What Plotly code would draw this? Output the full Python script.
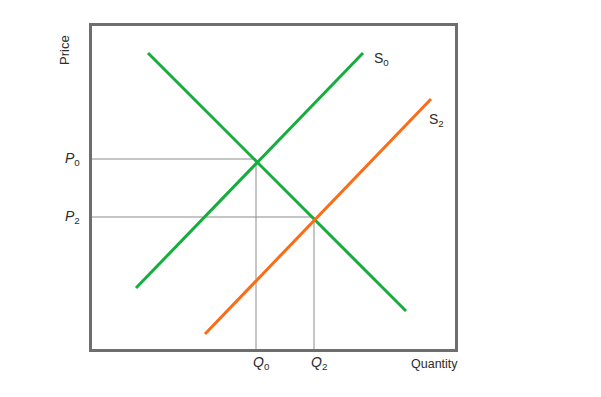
import plotly.graph_objects as go

# Data (quantity, price) in chart units
demand_q = [56, 314]
demand_p = [296, 38]
s0_q = [44, 271]
s0_p = [61, 296]
s2_q = [113, 339]
s2_p = [15, 250]
eq_labels = ["0", "2"]
eq_q = [164, 222]
eq_p = [190, 132]

X_MAX = 363
Y_MAX = 323

GREEN = "#15ad3e"
ORANGE = "#fb6c17"
GUIDE = "#8c8c8c"
TEXT = "#2b2b2b"
FONT = "Liberation Sans, Arial, sans-serif"

fig = go.Figure()

# guide lines
for q, p in zip(eq_q, eq_p):
    fig.add_trace(go.Scatter(x=[-2, q, q], y=[p, p, 0], mode="lines",
                             line=dict(color=GUIDE, width=1), hoverinfo="skip",
                             cliponaxis=False))

fig.add_trace(go.Scatter(x=demand_q, y=demand_p, mode="lines",
                         line=dict(color=GREEN, width=3)))
fig.add_trace(go.Scatter(x=s0_q, y=s0_p, mode="lines",
                         line=dict(color=GREEN, width=3)))
fig.add_trace(go.Scatter(x=s2_q, y=s2_p, mode="lines",
                         line=dict(color=ORANGE, width=3)))


def A(x, y, text, **kw):
    d = dict(x=x / X_MAX, y=y / Y_MAX, xref="paper", yref="paper", text=text,
             showarrow=False, yanchor="middle")
    d.update(kw)
    return d


LAB = dict(size=14)
ann = []
for lab, q, p in zip(eq_labels, eq_q, eq_p):
    ann.append(A(-10, p, f"<i>P</i><sub>{lab}</sub>", xanchor="right", font=LAB))
    ann.append(A(q + 5, -14, f"<i>Q</i><sub>{lab}</sub>", xanchor="center", font=LAB))
ann.append(A(-27, 299, "Price", textangle=-90, xanchor="center",
             font=dict(size=13)))
ann.append(A(368, -15, "Quantity", xanchor="right", font=dict(size=12.5)))
ann.append(A(s0_q[1] + 9, s0_p[1] - 6, "S<sub>0</sub>", xanchor="left", font=LAB))
ann.append(A(s2_q[1] - 4, s2_p[1] - 21, "S<sub>2</sub>", xanchor="left", font=LAB))

axis_common = dict(showgrid=False, zeroline=False, showticklabels=False, ticks="",
                   showline=True, linewidth=3, linecolor="#6e6e6e", mirror=True,
                   fixedrange=True)
fig.update_layout(
    width=601, height=397,
    margin=dict(l=92, r=146, t=26, b=48),
    paper_bgcolor="white", plot_bgcolor="white",
    showlegend=False,
    font=dict(family=FONT, size=12, color=TEXT),
    xaxis=dict(range=[0, X_MAX], **axis_common),
    yaxis=dict(range=[0, Y_MAX], **axis_common),
    annotations=ann,
)

fig.write_html("out.html")
